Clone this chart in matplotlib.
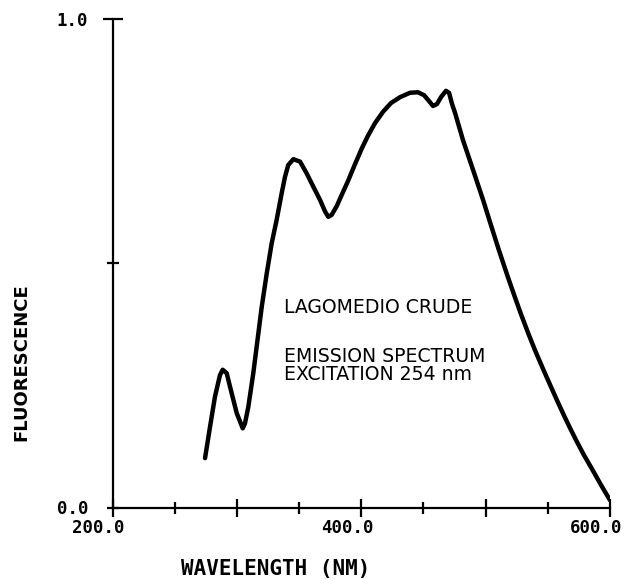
import matplotlib
matplotlib.use("Agg")
import matplotlib.pyplot as plt
from matplotlib.transforms import ScaledTranslation

# Emission spectrum of Lagomedio crude (excitation 254 nm)
wavelength = [274.4, 278.4, 282.4, 286.4, 288.6, 291.8, 295.8, 299.9, 304.7,
              306.5, 309.2, 313.2, 315.9, 320.0, 324.0, 328.0, 332.0, 336.0,
              338.7, 341.3, 345.4, 350.8, 356.1, 361.4, 366.8, 370.9, 373.5,
              376.2, 380.3, 384.3, 389.3, 395.0, 400.6, 405.4, 411.1, 417.5,
              423.9, 431.2, 439.2, 445.6, 450.5, 454.5, 457.7, 460.9, 464.1,
              468.1, 470.6, 473.0, 475.4, 481.8, 489.9, 497.9, 503.8, 510.4,
              517.6, 523.2, 528.4, 534.2, 539.7, 546.1, 552.2, 558.0, 562.9,
              567.8, 573.1, 578.9, 585.5, 592.8, 600.0]
fluorescence = [0.101, 0.165, 0.227, 0.271, 0.282, 0.275, 0.234, 0.193, 0.162,
                0.172, 0.206, 0.275, 0.329, 0.411, 0.479, 0.541, 0.589, 0.643,
                0.677, 0.701, 0.713, 0.708, 0.684, 0.657, 0.630, 0.606, 0.595,
                0.599, 0.617, 0.640, 0.668, 0.703, 0.736, 0.761, 0.787, 0.810,
                0.828, 0.840, 0.849, 0.850, 0.844, 0.832, 0.822, 0.826, 0.840,
                0.853, 0.849, 0.826, 0.808, 0.752, 0.691, 0.630, 0.582, 0.529,
                0.474, 0.433, 0.396, 0.357, 0.322, 0.284, 0.249, 0.216, 0.189,
                0.163, 0.136, 0.108, 0.079, 0.046, 0.015]

x_major = [200, 300, 400, 500, 600]
x_major_labels = ["200.0", "", "400.0", "", "600.0"]
x_minor = [250, 350, 450, 550]
y_ticks = [0.0, 0.5, 1.0]
y_tick_labels = ["0.0", "", "1.0"]

annotation_lines = ["LAGOMEDIO CRUDE", "EMISSION SPECTRUM", "EXCITATION 254 nm"]
annotation_y = [0.3975, 0.2985, 0.261]

W, H = 625, 579
fig = plt.figure(figsize=(W / 100, H / 100), dpi=100)
ax = fig.add_axes([112.5 / W, (H - 507.5) / H, 497.5 / W, 488.5 / H])

ax.plot(wavelength, fluorescence, color="black", lw=3.2,
        solid_joinstyle="round", solid_capstyle="round")

ax.set_xlim(200, 600)
ax.set_ylim(0, 1.0)

for side in ("top", "right"):
    ax.spines[side].set_visible(False)
for side in ("left", "bottom"):
    ax.spines[side].set_linewidth(1.6)

tick_font = dict(family="DejaVu Sans Mono", weight="bold", size=12.5)

ax.set_xticks(x_major)
ax.set_xticklabels(x_major_labels, **tick_font)
ax.set_xticks(x_minor, minor=True)
ax.tick_params(axis="x", which="major", direction="inout", length=13,
               width=1.6, pad=2)
ax.tick_params(axis="x", which="minor", direction="inout", length=8,
               width=1.6)

# decimal points sit on the tick marks
shift = ScaledTranslation(-14 / 100, 0, fig.dpi_scale_trans)
for lab in ax.get_xticklabels():
    lab.set_transform(lab.get_transform() + shift)

ax.set_yticks(y_ticks)
ax.set_yticklabels(y_tick_labels, **tick_font)
ax.tick_params(axis="y", which="major", direction="inout", length=9,
               width=1.6, pad=13)
ax.yaxis.get_major_ticks()[-1].tick1line.set_markersize(14)

for text, yv in zip(annotation_lines, annotation_y):
    ax.text(337.5, yv, text, family="DejaVu Sans", fontsize=13.6,
            va="baseline", ha="left", color="black")

fig.text(21 / W, 1 - 362 / H, "FLUORESCENCE", rotation=90, ha="center",
         va="center", family="DejaVu Sans", weight="bold", fontsize=13)
fig.text(276 / W, 1 - 569 / H, "WAVELENGTH (NM)", ha="center", va="center",
         family="DejaVu Sans Mono", weight="bold", fontsize=15)

fig.savefig("out.png", dpi=100, facecolor="white")
